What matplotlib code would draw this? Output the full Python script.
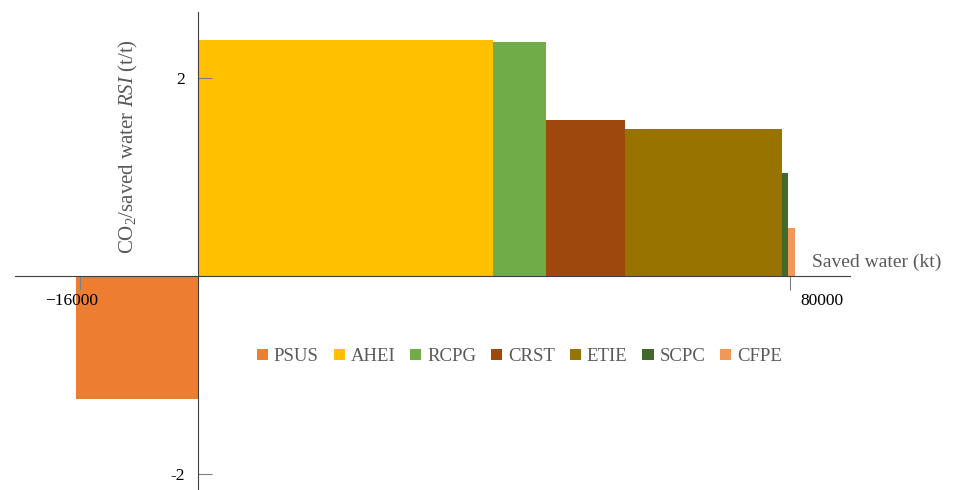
import matplotlib.pyplot as plt
import matplotlib.transforms as mtransforms
import numpy as np

plt.rcParams['font.family'] = 'Liberation Serif'
plt.rcParams['mathtext.fontset'] = 'custom'
plt.rcParams['mathtext.rm'] = 'Liberation Serif'
plt.rcParams['mathtext.it'] = 'Liberation Serif:italic'

# measures, saved water (kt) and CO2 per saved water (t/t)
measures = ['PSUS', 'AHEI', 'RCPG', 'CRST', 'ETIE', 'SCPC', 'CFPE']
saved_water = [-16500, 39800, 7200, 10700, 21200, 800, 900]
rsi = [-1.24, 2.39, 2.37, 1.58, 1.49, 1.04, 0.49]
colors = ['#ED7D31', '#FFC000', '#70AD47', '#9E480E', '#997300', '#43682B', '#F1975A']

xticks = [-16000, 80000]
xticklabels = ['\u221216000', '80000']
yticks = [-2, 2]
yticklabels = ['-2', '2']

fig = plt.figure(figsize=(9.55, 4.9), dpi=100)
ax = fig.add_axes([15 / 955, 0, 835 / 955, 478 / 490])

# bars sit side by side, width = saved water
cum = 0
for name, w, h, c in zip(measures, saved_water, rsi, colors):
    if w < 0:
        left = 0
    else:
        left = cum
        cum += w
    ax.bar(left, h, width=w, align='edge', color=c, label=name, linewidth=0)

ax.set_xlim(-24800, 88100)
ax.set_ylim(-2.16, 2.67)

ax.spines['left'].set_position(('data', 0))
ax.spines['bottom'].set_position(('data', 0))
ax.spines['right'].set_visible(False)
ax.spines['top'].set_visible(False)
ax.spines['left'].set_color('#404040')
ax.spines['bottom'].set_color('#404040')

ax.set_xticks(xticks)
ax.set_xticklabels(xticklabels)
ax.set_yticks(yticks)
ax.set_yticklabels(yticklabels)
ax.tick_params(axis='x', direction='out', length=10, color='#808080', labelsize=12.5, pad=2)
ax.tick_params(axis='y', direction='in', length=10, color='#808080', labelsize=12.5, pad=10)

# nudge x tick labels sideways like the original
shifts = [-8, 32]
for lab, dx in zip(ax.get_xticklabels(), shifts):
    lab.set_transform(lab.get_transform() + mtransforms.ScaledTranslation(dx / 100, 0, fig.dpi_scale_trans))

ax.text(83000, 0.05, 'Saved water (kt)', fontsize=14, color='#595959', ha='left', va='bottom')
ax.text(-9400, 1.31, 'CO$_2$/saved water $\\it{RSI}$ (t/t)', fontsize=15, color='#595959',
        rotation=90, ha='center', va='center')

ax.legend(loc='center', bbox_to_anchor=(0.604, 0.279), ncol=7, frameon=False, fontsize=13.5,
          handlelength=0.6, handleheight=0.6, handletextpad=0.3, columnspacing=0.8,
          labelcolor='#595959')

fig.savefig('out.png', dpi=100)
